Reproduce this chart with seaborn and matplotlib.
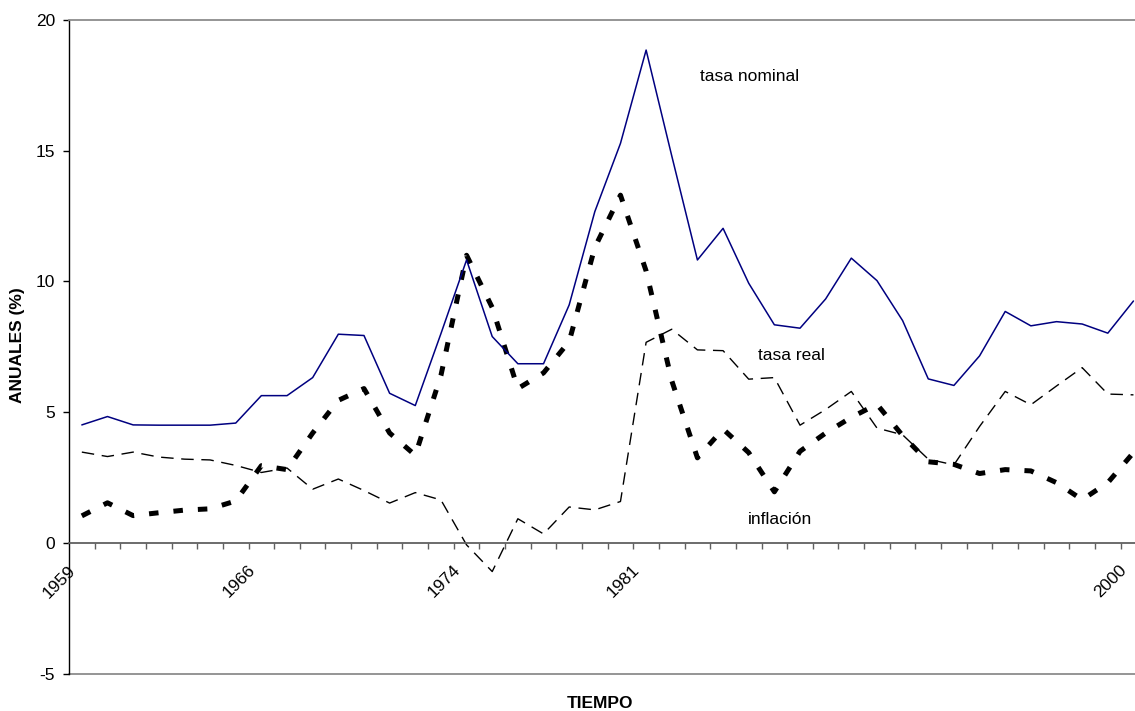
import matplotlib
matplotlib.use("Agg")
import matplotlib.pyplot as plt
import seaborn as sns
import numpy as np

# ============================================
# DATA
# ============================================
years = list(range(1959, 2001))
label_years = [1959, 1966, 1974, 1981, 2000]

tasa_nominal = [4.51, 4.83, 4.51, 4.50, 4.50, 4.50, 4.58, 5.63, 5.63, 6.32,
                7.98, 7.93, 5.72, 5.25, 8.00, 10.82, 7.89, 6.85, 6.85, 9.10,
                12.67, 15.28, 18.85, 14.80, 10.82, 12.03, 9.93, 8.34, 8.21, 9.33,
                10.89, 10.03, 8.50, 6.27, 6.02, 7.15, 8.85, 8.30, 8.46, 8.37,
                8.02, 9.25]

tasa_real = [3.47, 3.30, 3.47, 3.28, 3.20, 3.17, 2.96, 2.69, 2.86, 2.05,
             2.44, 2.00, 1.52, 1.92, 1.64, -0.08, -1.10, 0.92, 0.34, 1.37,
             1.26, 1.58, 7.67, 8.17, 7.38, 7.35, 6.26, 6.32, 4.50, 5.10,
             5.79, 4.39, 4.13, 3.20, 2.98, 4.45, 5.79, 5.28, 6.00, 6.70,
             5.69, 5.66]

inflacion = [1.03, 1.53, 1.04, 1.15, 1.25, 1.30, 1.60, 2.95, 2.80, 4.20,
             5.45, 5.90, 4.20, 3.35, 6.40, 11.00, 9.00, 5.90, 6.50, 7.70,
             11.30, 13.30, 10.40, 6.20, 3.25, 4.35, 3.45, 1.95, 3.50, 4.20,
             4.80, 5.30, 4.10, 3.10, 3.00, 2.65, 2.80, 2.75, 2.30, 1.65,
             2.30, 3.45]

# ============================================
# STYLE
# ============================================
sns.set_style("white")
plt.rcParams['font.family'] = ['Liberation Sans', 'DejaVu Sans']
plt.rcParams['font.size'] = 12.5
plt.rcParams['text.color'] = 'black'
plt.rcParams['xtick.labelcolor'] = 'black'
plt.rcParams['ytick.labelcolor'] = 'black'
plt.rcParams['axes.unicode_minus'] = False

fig = plt.figure(figsize=(11.35, 7.11), dpi=100)
ax = fig.add_axes([69 / 1135, 1 - 673.5 / 711, 1 - 69 / 1135, (673.5 - 20) / 711])

# series
sns.lineplot(x=years, y=tasa_real, ax=ax, color='black', lw=1.0,
             linestyle=(0, (9, 5.5)), dash_capstyle='butt')
sns.lineplot(x=years, y=inflacion, ax=ax, color='black', lw=3.6,
             linestyle=(0, (1.9, 3.0)), dash_capstyle='butt')
sns.lineplot(x=years, y=tasa_nominal, ax=ax, color='#000080', lw=1.1)

# axes limits
ax.set_xlim(1958.5, 2000.06)
ax.set_ylim(-5, 20)

# spines: black left axis, gray plot-area border, category axis at zero
for s in ['top', 'right', 'bottom', 'left']:
    ax.spines[s].set_visible(False)
ax.spines['left'].set_visible(True)
ax.spines['left'].set_color('black')
ax.spines['left'].set_linewidth(1.0)
ax.spines['top'].set_visible(True)
ax.spines['top'].set_color('#8c8c8c')
ax.spines['top'].set_linewidth(1.3)
ax.axhline(-5, color='#8c8c8c', lw=1.3, clip_on=False, zorder=0)

ax.spines['bottom'].set_visible(True)
ax.spines['bottom'].set_position(('data', 0))
ax.spines['bottom'].set_color('#606060')
ax.spines['bottom'].set_linewidth(1.3)

# y ticks
ax.set_yticks(np.arange(-5, 21, 5))
ax.tick_params(axis='y', direction='out', length=4.5, width=1.0, color='black',
               pad=5.5, labelsize=12.5, left=True)

# x ticks between categories, labels placed by hand
ax.set_xticks(np.arange(1959.5, 2000, 1.0))
ax.set_xticklabels([])
ax.tick_params(axis='x', direction='out', length=4.5, width=1.0, color='#606060',
               bottom=True)
for yr in label_years:
    ax.annotate(str(yr), xy=(yr, 0), xycoords='data',
                xytext=(-9, -25), textcoords='offset pixels',
                rotation=45, ha='right', va='center', rotation_mode='anchor',
                fontsize=12.5, annotation_clip=False)

# series labels
ax.text(1983.1, 17.82, 'tasa nominal', fontsize=12.5, va='center', ha='left')
ax.text(1985.36, 7.15, 'tasa real', fontsize=12.5, va='center', ha='left')
ax.text(1984.97, 0.88, 'inflación', fontsize=12.5, va='center', ha='left')

ax.set_xlabel('')
ax.set_ylabel('')
fig.text(600 / 1135, 1 - 703.5 / 711, 'TIEMPO', fontsize=12.5, fontweight='bold',
         ha='center', va='center')
fig.text(18 / 1135, 1 - 345 / 711, 'ANUALES (%)', fontsize=12.5, fontweight='bold',
         ha='center', va='center', rotation=90)

fig.savefig('out.png', dpi=100, facecolor='white')
